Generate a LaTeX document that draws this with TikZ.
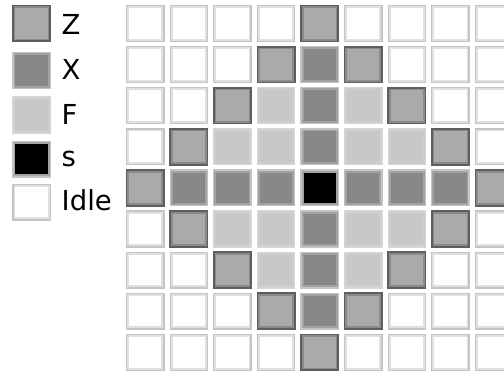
\documentclass[tikz,border=0pt]{standalone}
\usepackage{fontspec}
\setmainfont{DejaVu Sans}
\definecolor{zfill}{HTML}{AAAAAA}
\definecolor{zband}{HTML}{8A8A8A}
\definecolor{zline}{HTML}{5E5E5E}
\definecolor{xfill}{HTML}{888888}
\definecolor{xband}{HTML}{A2A2A2}
\definecolor{ffill}{HTML}{C8C8C8}
\definecolor{fband}{HTML}{CDCDCD}
\definecolor{lline}{HTML}{C4C4C4}
\definecolor{lband}{HTML}{E0E0E0}
\begin{document}
\begin{tikzpicture}[x=1pt,y=-1pt,
  cellbase/.style={rectangle,minimum width=37.3pt,minimum height=35.8pt,inner sep=0pt,outer sep=0pt,line width=1.3pt},
  inner/.style={path picture={\fill[#1] ([shift={(2.6pt,-2.6pt)}]path picture bounding box.north west) rectangle ([shift={(-2.6pt,2.6pt)}]path picture bounding box.south east);}},
  idle/.style={cellbase,draw=lline,fill=lband,inner=white},
  zc/.style={cellbase,draw=zline,line width=1.7pt,fill=zband,inner=zfill},
  xc/.style={cellbase,draw=lline,fill=xband,inner=xfill},
  fc/.style={cellbase,draw=lline!70!white,fill=fband,inner=ffill},
  sc/.style={cellbase,draw=lline,fill=xband,inner=black},
  lab/.style={anchor=base west,inner sep=0pt,font=\fontsize{27.5}{30}\selectfont}
]
\useasboundingbox (0,0) rectangle (504,374);
% legend
\node[zc]   (lz) at (31.5,23.3) {};
\node[xc]   (lx) at (31.5,70.5) {};
\node[fc]   (lf) at (31.5,115) {};
\node[sc]   (ls) at (31.5,159.2) {};
\node[idle] (li) at (31.5,202.2) {};
\node[lab] (tz) at (61.5,35) {Z};
\node[lab] (tx) at (61.5,80) {X};
\node[lab] (tf) at (61.5,125) {F};
\node[lab] (ts) at (61.5,167) {s};
\node[lab] (ti) at (61.5,210.7) {Idle};
% grid
\foreach \i in {0,...,8}{
  \foreach \j in {0,...,8}{
    \pgfmathtruncatemacro{\dx}{abs(\i-4)}
    \pgfmathtruncatemacro{\dy}{abs(\j-4)}
    \pgfmathtruncatemacro{\d}{\dx+\dy}
    \pgfmathsetmacro{\cx}{126+43.6*\i+19.25}
    \pgfmathsetmacro{\cy}{5+41.1*\j+18.5}
    \ifnum\d>4
      \node[idle] (c\i\j) at (\cx,\cy) {};
    \else\ifnum\d=4
      \node[zc] (c\i\j) at (\cx,\cy) {};
    \else\ifnum\d=0
      \node[sc] (c\i\j) at (\cx,\cy) {};
    \else\ifnum\dx=0
      \node[xc] (c\i\j) at (\cx,\cy) {};
    \else\ifnum\dy=0
      \node[xc] (c\i\j) at (\cx,\cy) {};
    \else
      \node[fc] (c\i\j) at (\cx,\cy) {};
    \fi\fi\fi\fi\fi
  }
}
\end{tikzpicture}
\end{document}
